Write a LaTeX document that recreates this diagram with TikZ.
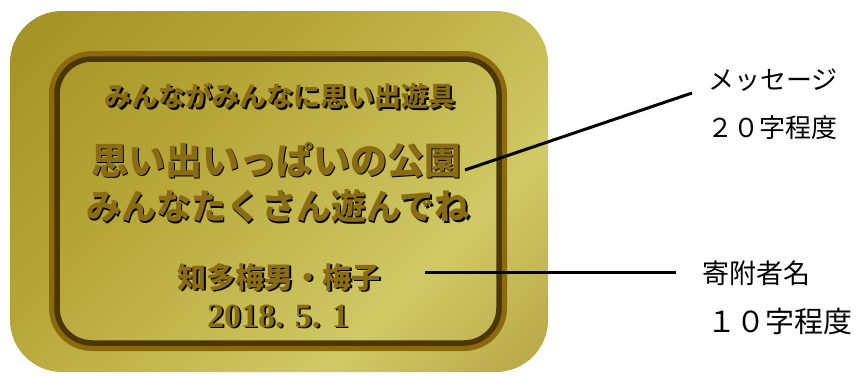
\documentclass[tikz,border=0pt]{standalone}
\usepackage{fontspec}
\newfontfamily\jpfont{Noto Sans CJK JP}
\newfontfamily\datefont{Liberation Serif}

\definecolor{golddark}{HTML}{9A841A}
\definecolor{goldmid}{HTML}{B5A536}
\definecolor{goldlight}{HTML}{D0C966}
\definecolor{goldedge}{HTML}{A4872A}
\definecolor{rimlight}{HTML}{8C6A0C}
\definecolor{rimdark}{HTML}{4A3705}
\definecolor{inkgold}{HTML}{8A6C12}

\pgfdeclarehorizontalshading{plaquegold}{100bp}{color(0bp)=(golddark); color(38bp)=(goldmid); color(68bp)=(goldlight); color(100bp)=(goldedge)}

\tikzset{
  engraved/.style={text=inkgold, font=\jpfont\bfseries, inner sep=0pt},
  engravedshadow/.style={text=black, font=\jpfont\bfseries, inner sep=0pt, xshift=1.6pt, yshift=-1.6pt},
  label/.style={anchor=west, inner sep=0pt, font=\jpfont},
  leader/.style={line width=3pt}
}

\begin{document}
\begin{tikzpicture}[x=1pt, y=-1pt]
    \useasboundingbox (0, 0) rectangle (862, 376);

    % plaque
    \shade [rounded corners=52pt, shading=plaquegold, shading angle=-45] (10, 11) rectangle (548, 372);
    \draw [rimlight, line width=10pt, rounded corners=38pt] (54, 56) rectangle (502, 346);
    \draw [rimdark, line width=5.5pt, rounded corners=35pt] (57, 59) rectangle (499, 343);

    % engraved lines
    \node [engravedshadow] (line1s) at (280, 96) {\fontsize{27}{27}\selectfont みんながみんなに思い出遊具};
    \node [engraved] (line1) at (280, 96) {\fontsize{27}{27}\selectfont みんながみんなに思い出遊具};
    \node [engravedshadow] (line2s) at (276, 160) {\fontsize{37}{37}\selectfont 思い出いっぱいの公園};
    \node [engraved] (line2) at (276, 160) {\fontsize{37}{37}\selectfont 思い出いっぱいの公園};
    \node [engravedshadow] (line3s) at (278, 206) {\fontsize{35}{35}\selectfont みんなたくさん遊んでね};
    \node [engraved] (line3) at (278, 206) {\fontsize{35}{35}\selectfont みんなたくさん遊んでね};
    \node [engravedshadow] (donors) at (279, 277) {\fontsize{29}{29}\selectfont 知多梅男・梅子};
    \node [engraved] (donor) at (279, 277) {\fontsize{29}{29}\selectfont 知多梅男・梅子};
    \node [engravedshadow, font=\datefont\bfseries] (dates) at (278, 316) {\fontsize{34}{34}\selectfont 2018. 5. 1};
    \node [engraved, font=\datefont\bfseries] (date) at (278, 316) {\fontsize{34}{34}\selectfont 2018. 5. 1};

    % captions
    \node [label] (msg) at (708, 80) {\fontsize{26}{26}\selectfont メッセージ};
    \node [label] (msglen) at (707, 128) {\fontsize{26}{26}\selectfont ２０字程度};
    \node [label] (giver) at (702, 273) {\fontsize{27}{27}\selectfont 寄附者名};
    \node [label] (giverlen) at (707, 321) {\fontsize{29}{29}\selectfont １０字程度};

    \coordinate (msgfoot) at (465, 170);
    \coordinate (msghead) at (692, 93);
    \coordinate (giverfoot) at (425, 272);
    \coordinate (giverhead) at (676, 272);
    \draw [leader] (msgfoot) -- (msghead);
    \draw [leader] (giverfoot) -- (giverhead);
  \end{tikzpicture}
\end{document}
